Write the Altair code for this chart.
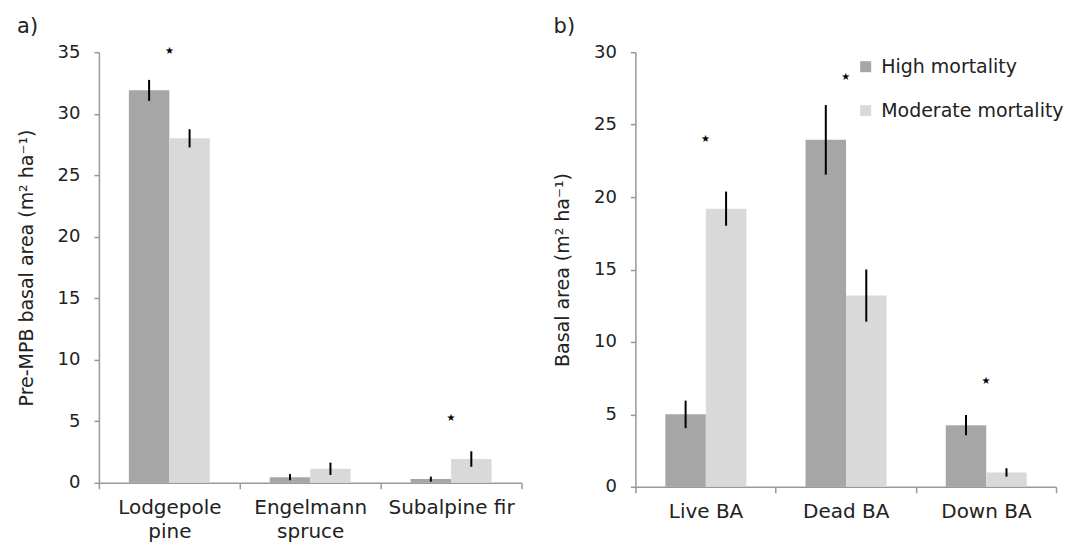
import altair as alt
import pandas as pd

FONT = "DejaVu Sans"
TXT = "#222222"

# Panel a) pre-MPB basal area by species
species = ["Lodgepole pine", "Engelmann spruce", "Subalpine fir"]
species_high = [31.9, 0.46, 0.30]
species_high_err = [0.85, 0.25, 0.2]
species_mod = [28.0, 1.14, 1.93]
species_mod_err = [0.74, 0.5, 0.63]
species_star = [35.1, None, 5.3]

# Panel b) basal area by status
ba_cats = ["Live BA", "Dead BA", "Down BA"]
ba_high = [5.0, 23.95, 4.25]
ba_high_err = [0.95, 2.4, 0.7]
ba_mod = [19.2, 13.2, 0.99]
ba_mod_err = [1.18, 1.8, 0.29]
ba_star = [24.0, 28.3, 7.3]

groups = ["High mortality", "Moderate mortality"]
colors = ["#a6a6a6", "#d9d9d9"]


def make_panel(cats, high, high_err, mod, mod_err, stars, ymax, ytitle,
               label, width, height, legend, label_expr):
    rows = []
    for c, h, he, m, me in zip(cats, high, high_err, mod, mod_err):
        rows.append({"cat": c, "group": groups[0], "value": h,
                     "lo": h - he, "hi": h + he})
        rows.append({"cat": c, "group": groups[1], "value": m,
                     "lo": m - me, "hi": m + me})
    df = pd.DataFrame(rows)
    sdf = pd.DataFrame([{"cat": c, "value": s} for c, s in zip(cats, stars)
                        if s is not None])

    xaxis = alt.Axis(title=None, labelAngle=0, tickBand="extent", tickSize=6,
                     labelPadding=9, labelFontSize=20, labelLineHeight=24,
                     labelExpr=label_expr)
    x = alt.X("cat:N", sort=cats,
              scale=alt.Scale(paddingInner=0, paddingOuter=0), axis=xaxis)
    xo = alt.XOffset("group:N", sort=groups,
                     scale=alt.Scale(paddingInner=0, paddingOuter=0.74))
    yaxis = alt.Axis(title=ytitle, values=list(range(0, ymax + 1, 5)),
                     grid=False, tickSize=5, labelPadding=14, titlePadding=21,
                     labelFontSize=18, titleFontSize=19)
    yscale = alt.Scale(domain=[0, ymax], nice=False)

    bars = alt.Chart(df).mark_bar().encode(
        x=x, xOffset=xo,
        y=alt.Y("value:Q", scale=yscale, axis=yaxis),
        color=alt.Color("group:N", sort=groups,
                        scale=alt.Scale(domain=groups, range=colors),
                        legend=legend),
    )
    err = alt.Chart(df).mark_rule(color="black", strokeWidth=2).encode(
        x=x, xOffset=xo,
        y=alt.Y("lo:Q", scale=yscale, axis=yaxis),
        y2="hi:Q",
    )
    star = alt.Chart(sdf).mark_text(text="★", fontSize=10, color="black",
                                    baseline="middle", font=FONT).encode(
        x=x,
        y=alt.Y("value:Q", scale=yscale, axis=yaxis),
    )
    return alt.layer(bars, err, star).properties(
        width=width, height=height,
        title=alt.TitleParams(label, anchor="start", frame="bounds",
                              fontSize=21, fontWeight="normal", offset=6,
                              font=FONT, color=TXT),
    )


left = make_panel(species, species_high, species_high_err, species_mod,
                  species_mod_err, species_star, 35,
                  "Pre-MPB basal area (m² ha⁻¹)", "a)", 423, 431, None,
                  "datum.label == 'Subalpine fir' ? datum.label : split(datum.label, ' ')")

right = make_panel(ba_cats, ba_high, ba_high_err, ba_mod, ba_mod_err,
                   ba_star, 30, "Basal area (m² ha⁻¹)", "b)", 421, 435,
                   alt.Legend(title=None, orient="none", legendX=221,
                              legendY=5, symbolType="square", symbolSize=121,
                              symbolStrokeWidth=0, labelFontSize=19,
                              labelOffset=6, rowPadding=24, padding=0,
                              labelLimit=400,
                              labelFont=FONT, labelColor=TXT),
                   "datum.label")

chart = alt.hconcat(left, right, spacing=31).resolve_scale(
    color="independent").resolve_legend(color="independent").properties(
    padding={"left": 9, "top": 8, "right": 0, "bottom": 0}
).configure_view(stroke=None).configure_axis(
    domainColor="#999999", tickColor="#999999", domainWidth=1.5,
    tickWidth=1.5, labelFont=FONT, titleFont=FONT, labelColor=TXT,
    titleColor=TXT, titleFontWeight="normal"
)

chart.save("out.html", embed_options={"renderer": "svg", "actions": False})
